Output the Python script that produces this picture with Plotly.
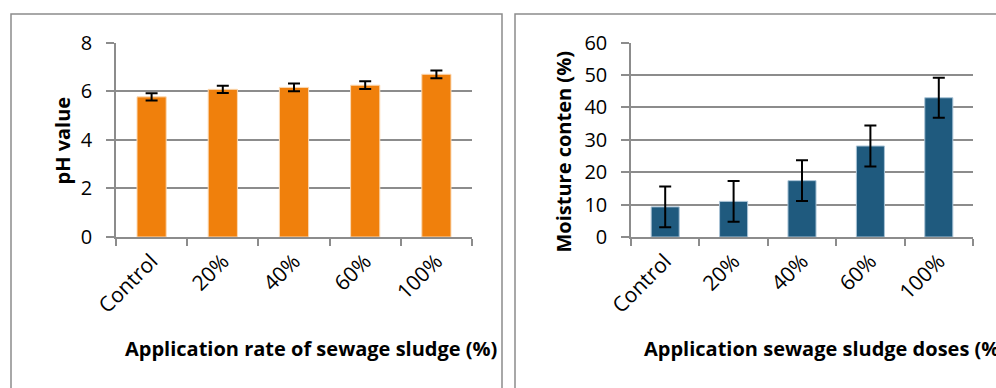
import plotly.graph_objects as go

# Treatments (sewage sludge application rates)
categories = ["Control", "20%", "40%", "60%", "100%"]

# Soil pH (mean and standard deviation)
ph_mean = [5.77, 6.08, 6.16, 6.25, 6.70]
ph_sd = [0.15, 0.15, 0.16, 0.16, 0.16]

# Soil moisture content, % (mean and standard deviation)
moist_mean = [9.3, 11.0, 17.4, 28.1, 43.0]
moist_sd = [6.3, 6.3, 6.3, 6.3, 6.2]

W, H = 996, 388
FONT = "Open Sans"
GRID = "#8c8c8c"
ORANGE = "#f0800c"
BLUE = "#1f5a7e"


def px(x):
    return x / W


def py(y):
    return 1 - y / H


fig = go.Figure()

fig.add_trace(go.Bar(
    x=categories, y=ph_mean, xaxis="x", yaxis="y",
    marker=dict(color=ORANGE, line=dict(color="#fbd9b4", width=1)),
    error_y=dict(type="data", array=ph_sd, color="black", thickness=2, width=6),
    showlegend=False,
))
fig.add_trace(go.Bar(
    x=categories, y=moist_mean, xaxis="x2", yaxis="y2",
    marker=dict(color=BLUE, line=dict(color="#a9c3d6", width=1)),
    error_y=dict(type="data", array=moist_sd, color="black", thickness=2, width=6),
    showlegend=False,
))

xcommon = dict(
    type="category", tickson="boundaries", ticks="outside", ticklen=7,
    tickcolor=GRID, tickwidth=1.5, showline=True, linecolor=GRID, linewidth=1.5,
    showgrid=False, tickangle=-45, tickfont=dict(family=FONT, size=21, color="black"),
    ticklabelstandoff=2, fixedrange=True, automargin=False,
)
ycommon = dict(
    ticks="outside", ticklen=8, tickcolor=GRID, tickwidth=1.5,
    showline=True, linecolor=GRID, linewidth=1.5,
    showgrid=True, gridcolor=GRID, gridwidth=1.5, zeroline=False,
    tickfont=dict(family=FONT, size=20, color="black"), ticklabelstandoff=10,
    fixedrange=True, automargin=False,
)

y_dom = [py(237), py(42.7)]

fig.update_layout(
    width=W, height=H,
    margin=dict(l=0, r=0, t=0, b=0, pad=0, autoexpand=False),
    paper_bgcolor="white", plot_bgcolor="white",
    bargap=0.59,
    xaxis=dict(domain=[px(116), px(472)], anchor="y", **xcommon),
    yaxis=dict(domain=y_dom, anchor="x", range=[0, 8], dtick=2, **ycommon),
    xaxis2=dict(domain=[px(631), px(973)], anchor="y2", **xcommon),
    yaxis2=dict(domain=y_dom, anchor="x2", range=[0, 60], dtick=10, **ycommon),
)

title_font = dict(family=FONT, size=20, color="black", weight="bold")

annotations = [
    dict(text="Application rate of sewage sludge (%)", x=px(311), y=py(348),
         xanchor="center", yanchor="middle"),
    dict(text="Application sewage sludge doses (%)", x=px(642), y=py(348),
         xanchor="left", yanchor="middle"),
    dict(text="pH value", x=px(62), y=py(140.5), textangle=-90,
         xanchor="center", yanchor="middle"),
    dict(text="Moisture conten (%)", x=px(563), y=py(152.5), textangle=-90,
         xanchor="center", yanchor="middle"),
]
for a in annotations:
    fig.add_annotation(xref="paper", yref="paper", showarrow=False,
                       font=title_font, **a)

# Chart-area frames around each panel
border = dict(color=GRID, width=1.5)
fig.add_shape(type="rect", xref="paper", yref="paper",
              x0=px(11), x1=px(502), y0=py(400), y1=py(14), line=border)
fig.add_shape(type="rect", xref="paper", yref="paper",
              x0=px(515), x1=px(1010), y0=py(400), y1=py(14), line=border)

fig.write_html("out.html")
